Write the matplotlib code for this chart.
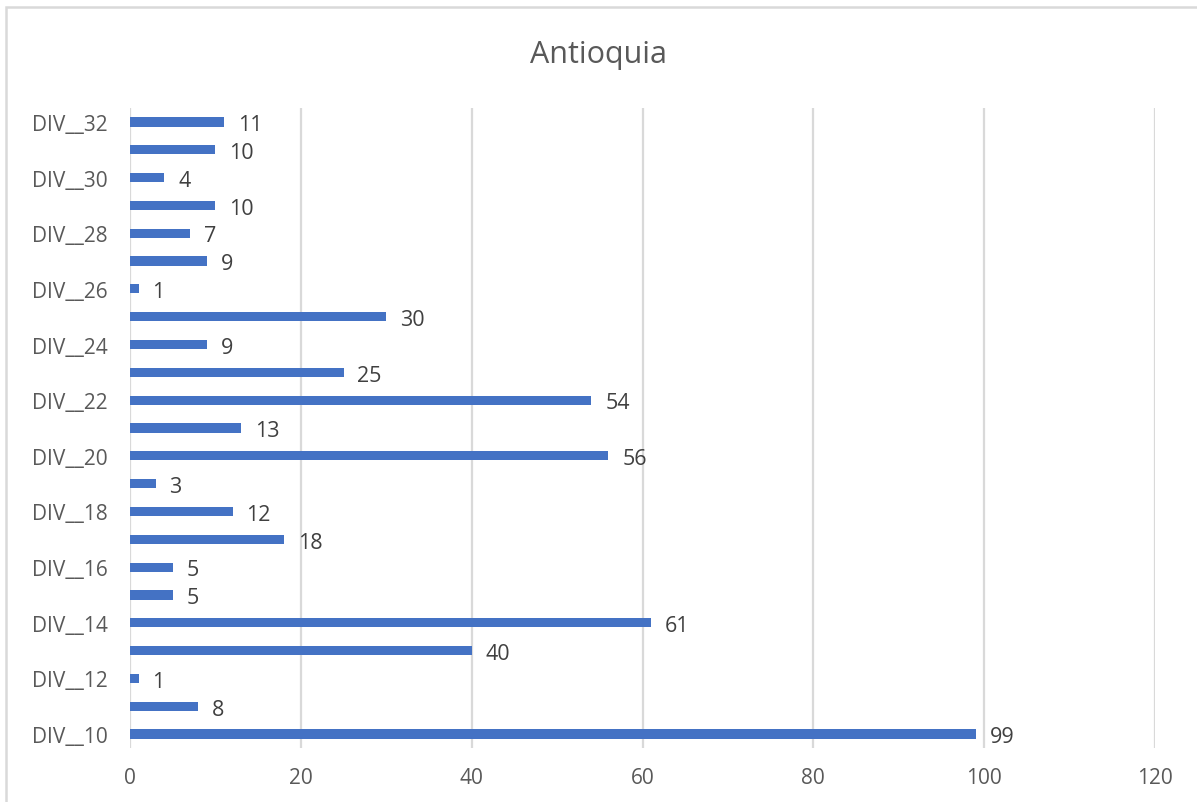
import matplotlib.pyplot as plt
from matplotlib.patches import Rectangle

categories = ["DIV__%d" % n for n in range(10, 33)]
values = [99, 8, 1, 40, 61, 5, 5, 18, 12, 3, 56, 13, 54, 25, 9, 30, 1, 9, 7, 10, 4, 10, 11]
x_ticks = [0, 20, 40, 60, 80, 100, 120]

plt.rcParams["font.family"] = ["Open Sans", "DejaVu Sans"]

fig = plt.figure(figsize=(11.97, 8.03), dpi=100)
ax = fig.add_axes([130 / 1197, 1 - 749 / 803, 1025 / 1197, 640 / 803])

pos = list(range(len(categories)))
ax.barh(pos, values, height=0.33, color="#4472C4", zorder=3)
for p, v in zip(pos, values):
    ax.annotate(str(v), (v, p), xytext=(10, -2), textcoords="offset points",
                va="center", ha="left", fontsize=15.5, color="#404040")

ax.set_xlim(0, 120)
ax.set_ylim(-0.5, len(categories) - 0.5)
ax.set_xticks(x_ticks)
ax.set_xticklabels([str(t) for t in x_ticks])
ax.set_yticks(pos[::2])
ax.set_yticklabels(categories[::2])
ax.tick_params(length=0, labelsize=15, labelcolor="#595959")
ax.tick_params(axis="x", pad=14)
ax.tick_params(axis="y", pad=16)
ax.grid(axis="x", color="#d9d9d9", linewidth=1.6, zorder=0)
for s in ax.spines.values():
    s.set_visible(False)

fig.text(0.5, 1 - 55 / 803, "Antioquia", ha="center", va="center",
         fontsize=22, color="#595959")

fig.patches.append(Rectangle((6 / 1197, -0.1), 1.2, 1 - 8 / 803 + 0.1,
                             transform=fig.transFigure, fill=False,
                             edgecolor="#d9d9d9", linewidth=1.8))

fig.savefig("out.png", dpi=100)
